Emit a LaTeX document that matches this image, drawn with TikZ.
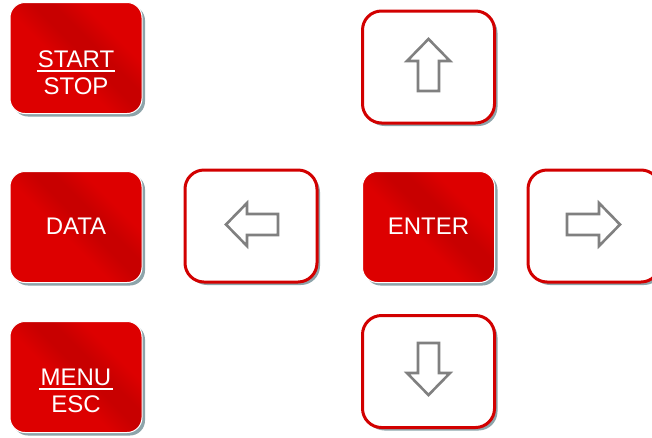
\documentclass[tikz,border=0pt]{standalone}
\usepackage{fontspec}
\setmainfont{Liberation Sans}
\usetikzlibrary{shadows}
\definecolor{bred}{HTML}{DD0000}
\definecolor{bdark}{HTML}{C80000}
\definecolor{bline}{HTML}{D20000}
\definecolor{shcol}{HTML}{8DA4AA}
\definecolor{arr}{HTML}{808080}
\pgfdeclarehorizontalshading{btnshade}{100bp}{color(0bp)=(bred); color(44bp)=(bred); color(53bp)=(bdark); color(59bp)=(bdark); color(68bp)=(bred); color(100bp)=(bred)}
\tikzset{
  btnshadow/.style={drop shadow={shadow xshift=3pt, shadow yshift=-3pt, fill=shcol, opacity=1}},
  redbtn/.style={shape=rectangle, rounded corners=15pt, shading=btnshade, shading angle=45, draw=white, line width=1pt, minimum width=132pt, minimum height=111pt, inner sep=0pt, outer sep=0pt, btnshadow},
  whitebtn/.style={shape=rectangle, rounded corners=19pt, fill=white, draw=bline, line width=3pt, minimum width=132pt, minimum height=112pt, inner sep=0pt, outer sep=0pt, btnshadow},
  lbl/.style={text=white, font=\fontsize{24}{28}\selectfont, inner sep=0pt, anchor=base},
  uline/.style={draw=white, line width=2pt},
  arrowshape/.style={draw=arr, line width=2.6pt, line join=miter, fill=white}
}
\begin{document}
\begin{tikzpicture}[x=1pt,y=-1pt]
\useasboundingbox (0,0) rectangle (652,437);
% buttons
\node[redbtn] (startstop) at (76,58) {};
\node[redbtn] (data) at (76,227) {};
\node[redbtn] (menu) at (76,377) {};
\node[redbtn] (enter) at (428.5,227) {};
\node[whitebtn] (up) at (428.5,67) {};
\node[whitebtn] (left) at (251,226) {};
\node[whitebtn] (right) at (594,226) {};
\node[whitebtn] (down) at (428.5,371.5) {};
% labels
\node[lbl] (start) at (76,67) {START};
\draw[uline] ([yshift=-4pt,xshift=-1pt]start.base west) -- ([yshift=-4pt,xshift=1pt]start.base east);
\node[lbl] (stop) at (76,94) {STOP};
\node[lbl] (datalbl) at (76,234.5) {DATA};
\node[lbl] (enterlbl) at (428.5,234.5) {ENTER};
\node[lbl] (menulbl) at (76,385) {MENU};
\draw[uline] ([yshift=-4pt,xshift=-1pt]menulbl.base west) -- ([yshift=-4pt,xshift=1pt]menulbl.base east);
\node[lbl] (esc) at (76,412) {ESC};
% arrows
\draw[arrowshape] (428.5,39) -- (450,61) -- (439,61) -- (439,91) -- (418,91) -- (418,61) -- (407,61) -- cycle;
\draw[arrowshape] (428.5,395) -- (450,373) -- (439,373) -- (439,343) -- (418,343) -- (418,373) -- (407,373) -- cycle;
\draw[arrowshape] (226,224.5) -- (247,203) -- (247,214) -- (278,214) -- (278,235) -- (247,235) -- (247,246) -- cycle;
\draw[arrowshape] (620,224.5) -- (599,203) -- (599,214) -- (567,214) -- (567,235) -- (599,235) -- (599,246) -- cycle;
\end{tikzpicture}
\end{document}
